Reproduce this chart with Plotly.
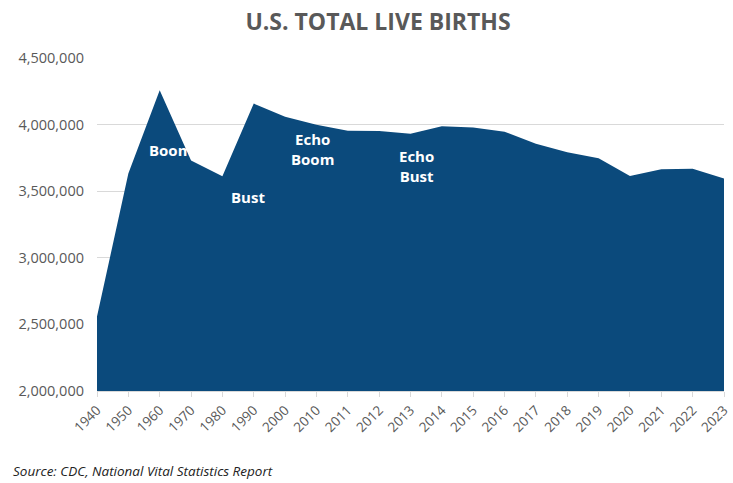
import plotly.graph_objects as go

years = ["1940", "1950", "1960", "1970", "1980", "1990", "2000", "2010", "2011", "2012",
         "2013", "2014", "2015", "2016", "2017", "2018", "2019", "2020", "2021", "2022", "2023"]
births = [2559000, 3632000, 4258000, 3731000, 3612000, 4158000, 4059000, 3999000, 3953000,
          3952000, 3932000, 3988000, 3978000, 3946000, 3856000, 3792000, 3748000, 3614000,
          3664000, 3668000, 3596000]

label_text = ["Boom", "Bust", "Echo<br>Boom", "Echo<br>Bust"]
label_x = [2.33, 4.82, 6.86, 10.18]
label_y = [3810000, 3456000, 3817000, 3689000]

fig = go.Figure()
fig.add_trace(go.Scatter(
    x=years, y=births, mode="lines", fill="tozeroy",
    line=dict(width=0, color="#0B4A7C"), fillcolor="#0B4A7C",
    hoverinfo="x+y", showlegend=False))

for t, x, y in zip(label_text, label_x, label_y):
    fig.add_annotation(x=x, y=y, xref="x", yref="y", text=t, showarrow=False,
                       font=dict(family="Open Sans", size=15, color="white", weight="bold"))

fig.add_annotation(x=0, y=0, xref="paper", yref="paper", xanchor="left", yanchor="top",
                   xshift=-86, yshift=-69,
                   text="<i>Source: CDC, National Vital Statistics Report</i>", showarrow=False,
                   font=dict(family="Open Sans", size=13.5, color="#222222"))

fig.update_layout(
    width=733, height=483,
    margin=dict(l=97, r=9, t=58, b=92),
    plot_bgcolor="white", paper_bgcolor="white",
    title=dict(text="<b>U.S. TOTAL LIVE BIRTHS</b>", x=0.5157, xanchor="center",
               xref="container", y=0.9716, yanchor="top",
               font=dict(family="Open Sans", size=23, color="#595959")),
    xaxis=dict(type="category", range=[0, 20], tickangle=-45, showgrid=False,
               ticks="outside", ticklen=5, tickcolor="#d9d9d9", automargin=False,
               showline=True, linecolor="#d9d9d9", linewidth=1,
               tickfont=dict(family="Open Sans", size=13.5, color="#595959")),
    yaxis=dict(range=[2000000, 4500000], dtick=500000, tickformat=",",
               showgrid=True, gridcolor="#d9d9d9", gridwidth=1, zeroline=False,
               ticks="", ticklabelstandoff=12, automargin=False,
               tickfont=dict(family="Open Sans", size=14.5, color="#595959")),
)

fig.write_html("out.html", config={"displayModeBar": False},
               post_script="document.body.style.margin='0';")
